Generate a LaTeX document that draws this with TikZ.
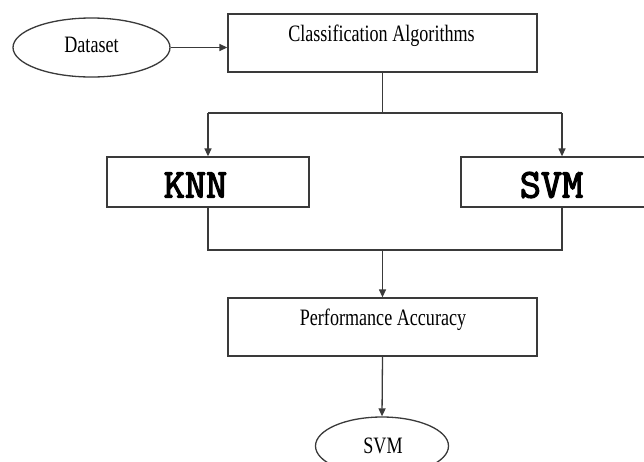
\documentclass[tikz,border=0pt]{standalone}
\usepackage{fontspec}
\setmainfont{Liberation Serif}
\newfontfamily\serifc[FakeStretch=0.77]{Liberation Serif}
\newfontfamily\monob[FakeBold=3]{Latin Modern Mono}
\usetikzlibrary{shapes.geometric,arrows.meta}
\definecolor{lc}{HTML}{3A3A3A}
\begin{document}
\begin{tikzpicture}[x=1pt,y=-1pt,
  line width=1.3pt,
  box/.style={draw=lc, rectangle, inner sep=0pt},
  oval/.style={draw=lc, ellipse, inner sep=0pt},
  stxt/.style={font=\fontsize{23.5}{23.5}\serifc, text=black, inner sep=0pt},
  btxt/.style={font=\fontsize{41}{41}\monob, text=black, inner sep=0pt},
  arr/.style={draw=lc, -{Triangle[length=8pt,width=7pt]}},
  ln/.style={draw=lc}]
\clip (0,0) rectangle (644,461);
\fill[white] (0,0) rectangle (644,461);
% nodes
\node[oval, minimum width=157pt, minimum height=59pt] (ds) at (91.5,47.5) {};
\node[stxt] (dstext) at (91.5,45) {Dataset};
\node[box, minimum width=309pt, minimum height=58pt] (ca) at (382.5,43) {};
\node[stxt] (catext) at (381.5,36) {Classification Algorithms};
\node[box, minimum width=202pt, minimum height=50pt] (knn) at (208,182) {};
\node[btxt] (knntext) at (195.5,185) {KNN};
\node[box, minimum width=202pt, minimum height=50pt] (svm) at (562,182) {};
\node[btxt] (svmtext) at (551.5,185) {SVM};
\node[box, minimum width=309pt, minimum height=58pt] (perf) at (382.5,327) {};
\node[stxt] (perftext) at (383,320) {Performance Accuracy};
\node[oval, minimum width=133pt, minimum height=58pt] (res) at (382,446) {};
\node[stxt] (restext) at (383,446) {SVM};
% junctions
\coordinate (jt) at (382.5,113);
\coordinate (jb) at (382.5,250);
% connectors
\draw[arr] (ds.east) -- (ds.east -| ca.west);
\draw[ln] (ca.south) -- (jt);
\draw[ln] (knn.north |- jt) -- (svm.north |- jt);
\draw[arr] (knn.north |- jt) -- (knn.north);
\draw[arr] (svm.north |- jt) -- (svm.north);
\draw[ln] (knn.south) |- (jb) -| (svm.south);
\draw[arr] (jb) -- (perf.north);
\draw[arr] (perf.south) -- (res.north);
\end{tikzpicture}
\end{document}
